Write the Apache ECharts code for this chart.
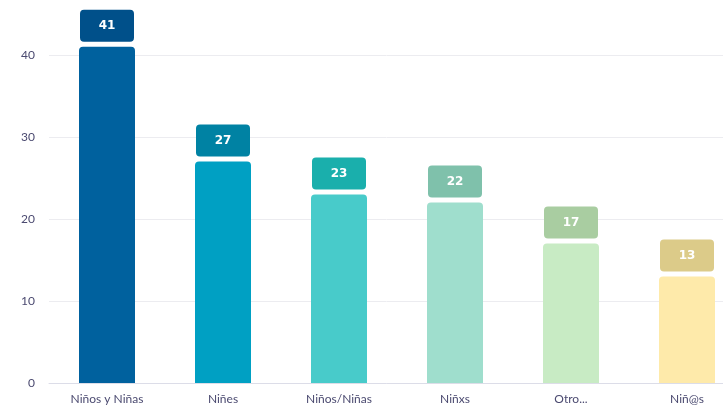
<!DOCTYPE html>
<html lang="es">
<head>
    <meta charset="utf-8">
    <title>Niños</title>
    <script src="https://cdn.jsdelivr.net/npm/echarts@6/dist/echarts.min.js"></script>
    <style>
        html, body { margin: 0; padding: 0; background: #fff; }
        #chart { width: 723px; height: 410px; }
    </style>
</head>
<body>
<div id="chart"></div>
<script type="text/javascript">
    var categories = ['Niños y Niñas', 'Niñes', 'Niños/Niñas', 'Niñxs', 'Otro...', 'Niñ@s'];
    var values = [41, 27, 23, 22, 17, 13];
    var barColors = ['#00619e', '#00a0c3', '#48cbca', '#9fdecd', '#c8ebc4', '#feeaaa'];
    var labelColors = ['#00508a', '#0082a3', '#1aafac', '#7fc1ab', '#a9cda1', '#dccb89'];

    var myChart = echarts.init(document.getElementById('chart'));
    var option = {
        animation: false,
        grid: { left: 49, right: -22, top: 55, bottom: 27, outerBoundsMode: 'none' },
        xAxis: {
            type: 'category',
            data: categories,
            axisTick: { show: false },
            axisLine: { lineStyle: { color: '#dcdde8' } },
            axisLabel: { color: '#4b4a70', fontSize: 12, fontFamily: 'Lato', margin: 10 }
        },
        yAxis: {
            type: 'value',
            min: 0,
            max: 40,
            interval: 10,
            axisLabel: { color: '#4b4a70', fontSize: 12, fontFamily: 'Lato', margin: 14 },
            splitLine: { lineStyle: { color: '#ececf0' } }
        },
        series: [{
            type: 'bar',
            clip: false,
            barWidth: 56,
            data: values.map(function (v, i) {
                return {
                    value: v,
                    itemStyle: { color: barColors[i], borderRadius: [4, 4, 0, 0] },
                    label: { backgroundColor: labelColors[i] }
                };
            }),
            label: {
                show: true,
                position: 'top',
                distance: 5,
                color: '#fff',
                fontSize: 12,
                fontWeight: 'bold',
                fontFamily: 'DejaVu Sans',
                width: 54,
                align: 'center',
                lineHeight: 16,
                padding: [8, 0],
                borderRadius: 4
            }
        }]
    };
    myChart.setOption(option);
</script>
</body>
</html>
